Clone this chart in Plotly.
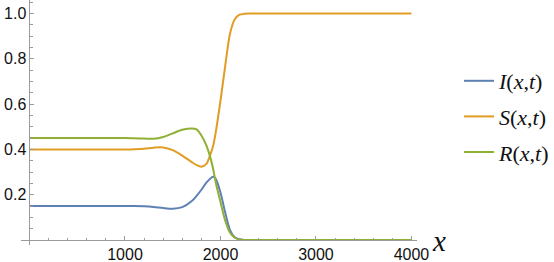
import plotly.graph_objects as go

# ---- data ----
x_vals = [0, 500, 1000, 1100, 1200, 1300, 1400, 1500, 1600, 1700, 1750, 1800,
          1850, 1900, 1925, 1950, 2000, 2050, 2100, 2150, 2200, 2250, 2300, 2500, 3000, 3500, 4000]
I_vals = [0.15, 0.15, 0.15, 0.15, 0.149, 0.146, 0.141, 0.138, 0.145, 0.172, 0.195, 0.222,
          0.252, 0.274, 0.279, 0.27, 0.21, 0.12, 0.044, 0.012, 0.003, 0.0005, 0.0, 0.0, 0.0, 0.0, 0.0]
S_vals = [0.40, 0.40, 0.40, 0.401, 0.403, 0.408, 0.409, 0.397, 0.373, 0.344, 0.331, 0.324,
          0.335, 0.385, 0.42, 0.475, 0.615, 0.77, 0.912, 0.975, 0.995, 0.999, 1.0, 1.0, 1.0, 1.0, 1.0]
R_vals = [0.45, 0.45, 0.45, 0.449, 0.448, 0.447, 0.455, 0.471, 0.487, 0.493, 0.489, 0.462,
          0.42, 0.355, 0.31, 0.255, 0.168, 0.085, 0.032, 0.01, 0.002, 0.0005, 0.0, 0.0, 0.0, 0.0, 0.0]

x_ticks = [1000, 2000, 3000, 4000]
y_ticks = [0.2, 0.4, 0.6, 0.8, 1.0]
y_tick_text = ["0.2", "0.4", "0.6", "0.8", "1.0"]

names = ["<i>I</i>(<i>x</i>,<i>t</i>)", "<i>S</i>(<i>x</i>,<i>t</i>)", "<i>R</i>(<i>x</i>,<i>t</i>)"]
colors = ["#5E81B5", "#E19C24", "#8FB032"]
series = [I_vals, S_vals, R_vals]

# ---- layout geometry ----
W, H = 554, 262
ML, MR, MT, MB = 21, 137, 0, 17
x_range = [-89, 4058]
y_range = [-0.022, 1.06]
axis_col = "#9a9a9a"

fig = go.Figure()
for i, (nm, col, ys) in enumerate(zip(names, colors, series)):
    fig.add_trace(go.Scatter(
        x=x_vals, y=ys, mode="lines", name=nm, legendgroup=str(i),
        line=dict(color=col, width=2, shape="spline", smoothing=0.8),
    ))

x0_paper = (0 - x_range[0]) / (x_range[1] - x_range[0])
y0_paper = (0 - y_range[0]) / (y_range[1] - y_range[0])

fig.update_layout(
    width=W, height=H,
    margin=dict(l=ML, r=MR, t=MT, b=MB, pad=0, autoexpand=False),
    plot_bgcolor="white", paper_bgcolor="white",
    font=dict(family="Liberation Sans, Arial, sans-serif", size=16, color="#111"),
    xaxis=dict(
        range=x_range, anchor="free", position=y0_paper, automargin=False,
        showgrid=False, zeroline=False, showline=True, linecolor=axis_col, linewidth=1,
        ticks="inside", ticklen=4, tickcolor=axis_col, tickwidth=1,
        tickmode="array", tickvals=x_ticks, ticktext=[str(v) for v in x_ticks],
        minor=dict(ticks="inside", ticklen=2.5, tickcolor=axis_col, dtick=200, tick0=0, showgrid=False),
        tickfont=dict(size=16), ticklabelstandoff=0,
    ),
    yaxis=dict(
        range=y_range, anchor="free", position=x0_paper, automargin=False,
        showgrid=False, zeroline=False, showline=True, linecolor=axis_col, linewidth=1,
        ticks="inside", ticklen=4, tickcolor=axis_col, tickwidth=1,
        tickmode="array", tickvals=y_ticks, ticktext=y_tick_text,
        minor=dict(ticks="inside", ticklen=2.5, tickcolor=axis_col, dtick=0.05, tick0=0, showgrid=False),
        tickfont=dict(size=16),
    ),
    legend=dict(
        x=(459 - ML) / (W - ML - MR), xanchor="left",
        y=1 - (60 - MT) / (H - MT - MB), yanchor="top",
        font=dict(family="Liberation Serif, Times New Roman, serif", size=22, color="#111"),
        tracegroupgap=4, bgcolor="rgba(0,0,0,0)",
    ),
    showlegend=True,
)

fig.add_annotation(
    text="<i>x</i>", x=(439 - ML) / (W - ML - MR), y=1 - (241 - MT) / (H - MT - MB),
    xref="paper", yref="paper", showarrow=False,
    font=dict(family="Liberation Serif, Times New Roman, serif", size=29, color="#111"),
    xanchor="center", yanchor="middle",
)

fig.write_html("out.html", config={"displayModeBar": False},
               post_script="document.body.style.margin='0';document.body.style.padding='0';")
